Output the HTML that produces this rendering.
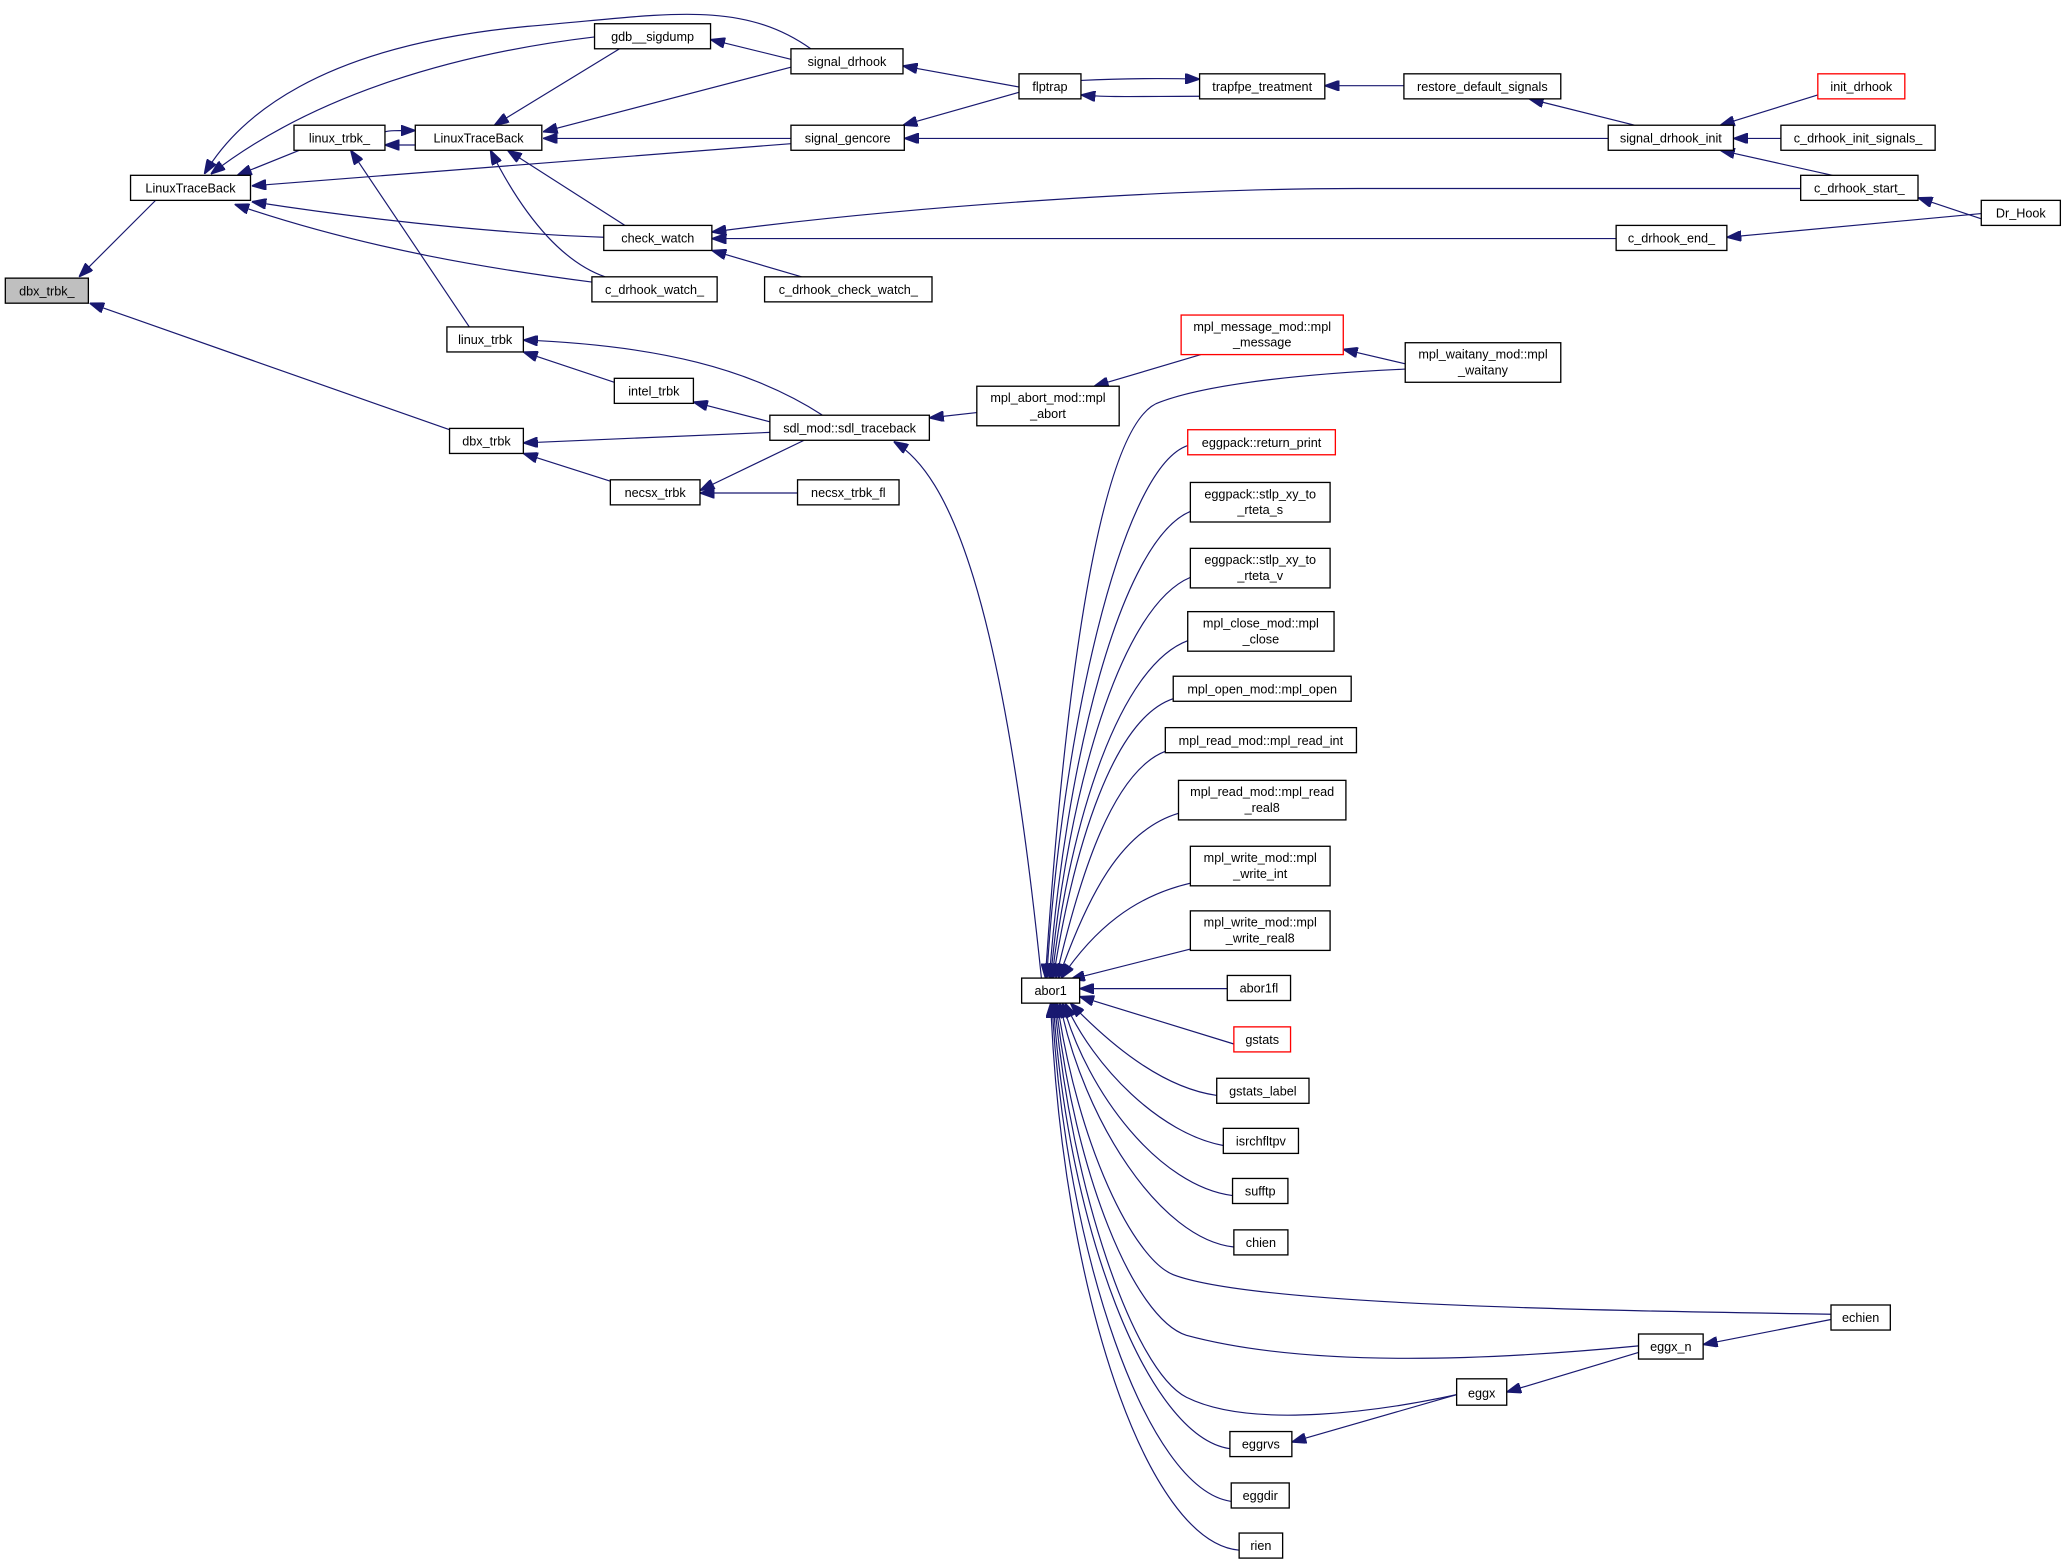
<!DOCTYPE html>
<html><head><meta charset="utf-8"><style>
html,body{margin:0;padding:0;background:#fff;}
svg{display:block;}
text{font-family:"Liberation Sans",sans-serif;font-size:9.6px;fill:#000;text-anchor:middle;}
.n{fill:#fff;stroke:#000;stroke-width:1;}
.r{fill:#fff;stroke:#ff0000;stroke-width:1;}
.g{fill:#bfbfbf;stroke:#000;stroke-width:1;}
.e{fill:none;stroke:#191970;stroke-width:0.9;marker-start:url(#a);}
</style></head><body>
<svg width="2067" height="1566" viewBox="0 0 1568 1188" xmlns="http://www.w3.org/2000/svg">
<defs><marker id="a" markerUnits="userSpaceOnUse" markerWidth="11" markerHeight="8" refX="11" refY="4" orient="auto-start-reverse"><path d="M0,0 L11,4 L0,8 z" fill="#191970" stroke="#191970"/></marker></defs>
<!-- edges -->
<path class="e" d="M60,210 L118,152"/>
<path class="e" d="M68,230 L341,326"/>
<path class="e" d="M180,133 L227,114"/>
<path class="e" d="M160,132 C240,70 350,40 451,28"/>
<path class="e" d="M155,132 C180,90 240,35 400,20 C500,12 560,-2 615,37"/>
<path class="e" d="M191,141 L600,109"/>
<path class="e" d="M191,153 C300,170 400,178 458,180"/>
<path class="e" d="M178,155 C280,190 380,205 449,214"/>
<path class="e" d="M315,99 C300,99 295,99 292,100"/>
<path class="e" d="M292,110 L315,110"/>
<path class="e" d="M375,95 L470,37"/>
<path class="e" d="M412,100 L600,51"/>
<path class="e" d="M412,105 L600,105"/>
<path class="e" d="M385,114 L474,171"/>
<path class="e" d="M372,114 C400,170 430,200 459,210"/>
<path class="e" d="M266,114 L356,248"/>
<path class="e" d="M539,30 L600,45"/>
<path class="e" d="M685,50 L773,66"/>
<path class="e" d="M685,95 L773,70"/>
<path class="e" d="M910,60 C870,59 840,60 820,61"/>
<path class="e" d="M820,72 C840,74 870,73 910,73"/>
<path class="e" d="M1005,65 L1065,65"/>
<path class="e" d="M1160,75 L1240,95"/>
<path class="e" d="M686,105 L1220,105"/>
<path class="e" d="M1305,95 L1379,72"/>
<path class="e" d="M1315,105 L1351,105"/>
<path class="e" d="M1305,114 L1390,133"/>
<path class="e" d="M1455,150 L1503,166"/>
<path class="e" d="M1310,180 L1503,162"/>
<path class="e" d="M540,176 C700,155 900,143 1030,143 L1366,143"/>
<path class="e" d="M540,181 L1226,181"/>
<path class="e" d="M540,190 L608,210"/>
<path class="e" d="M397,258 C500,262 570,280 624,315"/>
<path class="e" d="M397,267 L466,290"/>
<path class="e" d="M526,305 L584,320"/>
<path class="e" d="M397,336 L584,328"/>
<path class="e" d="M397,344 L463,365"/>
<path class="e" d="M531,372 L610,334"/>
<path class="e" d="M531,374 L605,374"/>
<path class="e" d="M705,317 L741,313"/>
<path class="e" d="M678,335 C720,360 760,450 790,742"/>
<path class="e" d="M830,293 L911,269"/>
<path class="e" d="M1019,265 L1066,276"/>
<path class="e" d="M793,742 C805,560 830,320 880,305 C920,290 1000,283 1066,280"/>
<path class="e" d="M794,742 C805,560 850,355 901,338"/>
<path class="e" d="M796,742 C808,580 850,410 903,388"/>
<path class="e" d="M797,742 C810,600 850,460 903,438"/>
<path class="e" d="M798,742 C812,620 850,505 901,486"/>
<path class="e" d="M799,742 C815,640 845,545 890,530"/>
<path class="e" d="M801,742 C820,660 845,585 884,570"/>
<path class="e" d="M803,742 C825,680 850,630 894,617"/>
<path class="e" d="M805,742 C830,705 860,680 903,670"/>
<path class="e" d="M812,743 L903,720"/>
<path class="e" d="M819,750 L931,750"/>
<path class="e" d="M819,756 L936,792"/>
<path class="e" d="M812,761 C840,790 880,825 923,831"/>
<path class="e" d="M808,761 C830,810 880,860 928,869"/>
<path class="e" d="M806,761 C825,830 880,900 935,907"/>
<path class="e" d="M804,761 C822,850 880,940 936,946"/>
<path class="e" d="M802,761 C818,870 860,955 890,967 C950,990 1200,994 1389,997"/>
<path class="e" d="M801,761 C815,890 860,1000 900,1013 C1000,1040 1150,1030 1243,1021"/>
<path class="e" d="M800,761 C812,900 860,1040 900,1060 C950,1085 1050,1070 1105,1058"/>
<path class="e" d="M1292,1020 L1389,1001"/>
<path class="e" d="M1143,1056 L1243,1026"/>
<path class="e" d="M980,1094 L1105,1058"/>
<path class="e" d="M799,761 C810,930 870,1090 933,1099"/>
<path class="e" d="M798,761 C808,950 870,1130 934,1139"/>
<path class="e" d="M797,761 C806,980 870,1170 940,1176"/>
<!-- nodes -->
<rect class="g" x="4" y="211" width="63" height="19"/><text x="35.5" y="224">dbx_trbk_</text>
<rect class="n" x="99" y="133" width="91" height="19"/><text x="144.5" y="146">LinuxTraceBack</text>
<rect class="n" x="223" y="95" width="69" height="19"/><text x="257.5" y="108">linux_trbk_</text>
<rect class="n" x="315" y="95" width="96" height="19"/><text x="363" y="108">LinuxTraceBack</text>
<rect class="n" x="451" y="18" width="88" height="19"/><text x="495" y="31">gdb__sigdump</text>
<rect class="n" x="600" y="37" width="85" height="19"/><text x="642.5" y="50">signal_drhook</text>
<rect class="n" x="600" y="95" width="86" height="19"/><text x="643" y="108">signal_gencore</text>
<rect class="n" x="773" y="56" width="47" height="19"/><text x="796.5" y="69">flptrap</text>
<rect class="n" x="910" y="56" width="95" height="19"/><text x="957.5" y="69">trapfpe_treatment</text>
<rect class="n" x="1065" y="56" width="119" height="19"/><text x="1124.5" y="69">restore_default_signals</text>
<rect class="n" x="1220" y="95" width="95" height="19"/><text x="1267.5" y="108">signal_drhook_init</text>
<rect class="r" x="1379" y="56" width="66" height="19"/><text x="1412" y="69">init_drhook</text>
<rect class="n" x="1351" y="95" width="117" height="19"/><text x="1409.5" y="108">c_drhook_init_signals_</text>
<rect class="n" x="1366" y="133" width="89" height="19"/><text x="1410.5" y="146">c_drhook_start_</text>
<rect class="n" x="1503" y="152" width="60" height="19"/><text x="1533" y="165">Dr_Hook</text>
<rect class="n" x="1226" y="171" width="84" height="19"/><text x="1268" y="184">c_drhook_end_</text>
<rect class="n" x="458" y="171" width="82" height="19"/><text x="499" y="184">check_watch</text>
<rect class="n" x="449" y="210" width="95" height="19"/><text x="496.5" y="223">c_drhook_watch_</text>
<rect class="n" x="580" y="210" width="127" height="19"/><text x="643.5" y="223">c_drhook_check_watch_</text>
<rect class="n" x="339" y="248" width="58" height="19"/><text x="368" y="261">linux_trbk</text>
<rect class="n" x="466" y="287" width="60" height="19"/><text x="496" y="300">intel_trbk</text>
<rect class="n" x="341" y="325" width="56" height="19"/><text x="369" y="338">dbx_trbk</text>
<rect class="n" x="463" y="364" width="68" height="19"/><text x="497" y="377">necsx_trbk</text>
<rect class="n" x="605" y="364" width="77" height="19"/><text x="643.5" y="377">necsx_trbk_fl</text>
<rect class="n" x="584" y="315" width="121" height="19"/><text x="644.5" y="328">sdl_mod::sdl_traceback</text>
<rect class="n" x="741" y="293" width="108" height="30"/><text x="795" y="305">mpl_abort_mod::mpl</text><text x="795" y="317">_abort</text>
<rect class="r" x="896" y="239" width="123" height="30"/><text x="957.5" y="251">mpl_message_mod::mpl</text><text x="957.5" y="263">_message</text>
<rect class="n" x="1066" y="260" width="118" height="30"/><text x="1125" y="272">mpl_waitany_mod::mpl</text><text x="1125" y="284">_waitany</text>
<rect class="r" x="901" y="326" width="112" height="19"/><text x="957" y="339">eggpack::return_print</text>
<rect class="n" x="903" y="366" width="106" height="30"/><text x="956" y="378">eggpack::stlp_xy_to</text><text x="956" y="390">_rteta_s</text>
<rect class="n" x="903" y="416" width="106" height="30"/><text x="956" y="428">eggpack::stlp_xy_to</text><text x="956" y="440">_rteta_v</text>
<rect class="n" x="901" y="464" width="111" height="30"/><text x="956.5" y="476">mpl_close_mod::mpl</text><text x="956.5" y="488">_close</text>
<rect class="n" x="890" y="513" width="135" height="19"/><text x="957.5" y="526">mpl_open_mod::mpl_open</text>
<rect class="n" x="884" y="552" width="145" height="19"/><text x="956.5" y="565">mpl_read_mod::mpl_read_int</text>
<rect class="n" x="894" y="592" width="127" height="30"/><text x="957.5" y="604">mpl_read_mod::mpl_read</text><text x="957.5" y="616">_real8</text>
<rect class="n" x="903" y="642" width="106" height="30"/><text x="956" y="654">mpl_write_mod::mpl</text><text x="956" y="666">_write_int</text>
<rect class="n" x="903" y="691" width="106" height="30"/><text x="956" y="703">mpl_write_mod::mpl</text><text x="956" y="715">_write_real8</text>
<rect class="n" x="775" y="742" width="44" height="19"/><text x="797" y="755">abor1</text>
<rect class="n" x="931" y="740" width="48" height="19"/><text x="955" y="753">abor1fl</text>
<rect class="r" x="936" y="779" width="43" height="19"/><text x="957.5" y="792">gstats</text>
<rect class="n" x="923" y="818" width="70" height="19"/><text x="958" y="831">gstats_label</text>
<rect class="n" x="928" y="856" width="57" height="19"/><text x="956.5" y="869">isrchfltpv</text>
<rect class="n" x="935" y="894" width="42" height="19"/><text x="956" y="907">sufftp</text>
<rect class="n" x="936" y="933" width="41" height="19"/><text x="956.5" y="946">chien</text>
<rect class="n" x="1389" y="990" width="45" height="19"/><text x="1411.5" y="1003">echien</text>
<rect class="n" x="1243" y="1012" width="49" height="19"/><text x="1267.5" y="1025">eggx_n</text>
<rect class="n" x="1105" y="1046" width="38" height="20"/><text x="1124" y="1060">eggx</text>
<rect class="n" x="933" y="1086" width="47" height="19"/><text x="956.5" y="1099">eggrvs</text>
<rect class="n" x="934" y="1125" width="44" height="19"/><text x="956" y="1138">eggdir</text>
<rect class="n" x="940" y="1163" width="33" height="19"/><text x="956.5" y="1176">rien</text>
</svg>
</body></html>
